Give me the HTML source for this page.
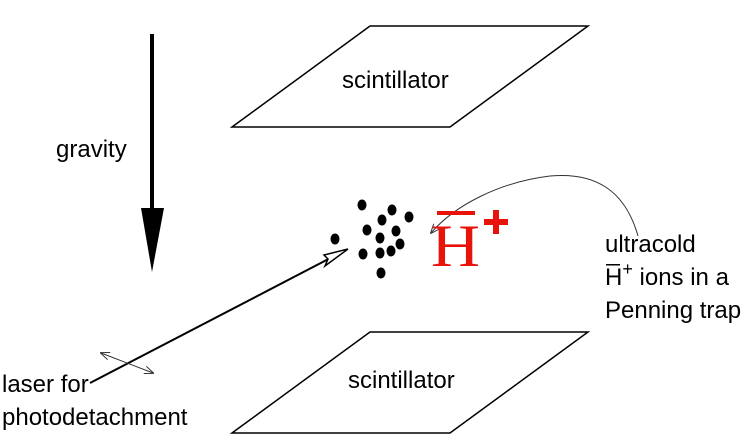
<!DOCTYPE html>
<html><head><style>
html,body{margin:0;padding:0;background:#fff;}
svg{display:block;}
text{font-family:"Liberation Sans",sans-serif;font-size:24px;fill:#000;}
</style></head><body>
<svg width="746" height="441" viewBox="0 0 746 441" xmlns="http://www.w3.org/2000/svg">
<defs>
<marker id="sm" markerWidth="10" markerHeight="8" refX="9" refY="4" orient="auto" markerUnits="userSpaceOnUse">
<path d="M0,0 L10,4 L0,8" fill="none" stroke="#333" stroke-width="1"/>
</marker>
<marker id="sm2" markerWidth="10" markerHeight="8" refX="1" refY="4" orient="auto" markerUnits="userSpaceOnUse">
<path d="M10,0 L0,4 L10,8" fill="none" stroke="#333" stroke-width="1"/>
</marker>
</defs>
<polygon points="232,127 370,26 588,26 450,127" fill="none" stroke="#000" stroke-width="1.5"/>
<text x="342" y="88">scintillator</text>
<polygon points="232,433 370,332 588,332 450,433" fill="none" stroke="#000" stroke-width="1.5"/>
<text x="348" y="388">scintillator</text>
<line x1="152" y1="34" x2="152" y2="210" stroke="#000" stroke-width="4"/>
<polygon points="141,208 164,208 152,272" fill="#000"/>
<text x="56" y="157">gravity</text>
<g fill="#000">
<ellipse cx="362" cy="205" rx="4.5" ry="5.5"/>
<ellipse cx="392" cy="210" rx="4.5" ry="5.5"/>
<ellipse cx="409" cy="217" rx="4.5" ry="5.5"/>
<ellipse cx="382" cy="220" rx="4.5" ry="5.5"/>
<ellipse cx="367" cy="230" rx="4.5" ry="5.5"/>
<ellipse cx="396" cy="231" rx="4.5" ry="5.5"/>
<ellipse cx="380" cy="238" rx="4.5" ry="5.5"/>
<ellipse cx="400" cy="244" rx="4.5" ry="5.5"/>
<ellipse cx="335" cy="239" rx="4.5" ry="5.5"/>
<ellipse cx="363" cy="254" rx="4.5" ry="5.5"/>
<ellipse cx="380" cy="253" rx="4.5" ry="5.5"/>
<ellipse cx="391" cy="251" rx="4.5" ry="5.5"/>
<ellipse cx="381" cy="273" rx="4.5" ry="5.5"/>
</g>
<line x1="90" y1="383" x2="340" y2="253" stroke="#000" stroke-width="2"/>
<polygon points="348,249 324,255 328,259 325,266" fill="#fff" stroke="#000" stroke-width="1.5"/>
<line x1="101" y1="353" x2="153" y2="373" stroke="#333" stroke-width="1" marker-start="url(#sm2)" marker-end="url(#sm)"/>
<text x="2" y="392">laser for</text>
<text x="2" y="425">photodetachment</text>
<path d="M638,236 C625,190 595,172 550,176 C500,182 455,205 431,233" fill="none" stroke="#333" stroke-width="1" marker-end="url(#sm)"/>
<text x="431" y="266" style="font-family:'Liberation Serif',serif;font-size:60px;fill:#e8140c" textLength="49" lengthAdjust="spacingAndGlyphs">H</text>
<rect x="437" y="211" width="38" height="4" fill="#e8140c"/>
<rect x="484" y="219" width="24" height="6" fill="#e8140c"/>
<rect x="493" y="210" width="6" height="24" fill="#e8140c"/>
<text x="605" y="252">ultracold</text>
<text x="605" y="285">H<tspan dy="-10" font-size="18">+</tspan><tspan dy="10"> ions in a</tspan></text>
<rect x="606" y="264" width="14" height="1.5" fill="#000"/>
<text x="605" y="318">Penning trap</text>
</svg>
</body></html>
